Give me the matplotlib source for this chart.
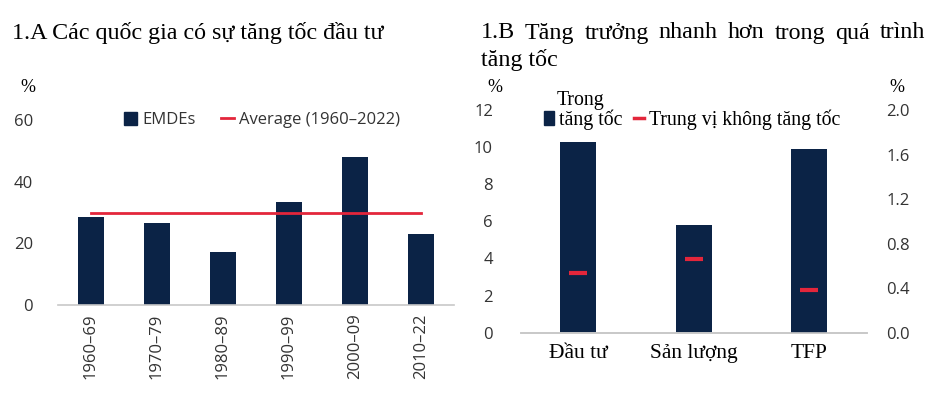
import numpy as np
import matplotlib
matplotlib.use('Agg')
import matplotlib.pyplot as plt
from matplotlib.lines import Line2D
from matplotlib.patches import Patch

NAVY = '#0b2346'
RED = '#e3263b'
GRID = '#c8c8c8'

# panel A data
periods = ['1960–69', '1970–79', '1980–89', '1990–99', '2000–09', '2010–22']
emdes = [28.7, 26.7, 17.1, 33.4, 47.9, 23.1]
average = 29.7

# panel B data (Đầu tư, Sản lượng on left axis; TFP on right axis)
cats_b = ['Đầu tư', 'Sản lượng', 'TFP']
accel_left = [10.3, 5.8]
median_left = [3.2, 3.95]
accel_tfp = 1.65
median_tfp = 0.38

sans = 'Open Sans'
serif = 'Liberation Serif'

fig = plt.figure(figsize=(9.48, 3.93), dpi=100)

# ---------- panel A ----------
ax = fig.add_axes([58/948, 1-305/393, 396/948, 185/393])
x = np.arange(len(periods))
ax.bar(x, emdes, width=0.4, color=NAVY, label='EMDEs', zorder=2)
ax.plot([x[0], x[-1]], [average, average], color=RED, lw=2, zorder=3,
        label='Average (1960–2022)')
ax.set_xlim(-0.5, len(periods) - 0.5)
ax.set_ylim(0, 60)
ax.set_yticks([0, 20, 40, 60])
ax.set_xticks(x)
ax.set_xticklabels(periods, rotation=90, fontfamily=sans, fontsize=12)
for lab in ax.get_yticklabels():
    lab.set_fontfamily(sans)
    lab.set_fontsize(12)
ax.tick_params(length=0, pad=6, colors='#333333')
ax.tick_params(axis='y', pad=18)
for s in ['top', 'right', 'left']:
    ax.spines[s].set_visible(False)
ax.spines['bottom'].set_color(GRID)
ax.spines['bottom'].set_linewidth(1.2)
handles = [Patch(color=NAVY), Line2D([0], [0], color=RED, lw=2)]
ax.legend(handles, ['EMDEs', 'Average (1960–2022)'], ncol=2, frameon=False,
          loc='center', bbox_to_anchor=(0.515, 1.0), prop={'family': sans, 'size': 12},
          handlelength=0.8, handleheight=0.8, handletextpad=0.3, columnspacing=1.5,
          labelcolor='#333333')
fig.text(12/948, 1-33/393, '1.A Các quốc gia có sự tăng tốc đầu tư',
         fontfamily=serif, fontsize=17.3, va='center', ha='left')
fig.text(20/948, 1-88/393, '%', fontfamily=serif, fontsize=13, va='center', ha='left')

# ---------- panel B ----------
bx = fig.add_axes([520.7/948, 1-332.7/393, 346/948, 222.7/393])
bx2 = bx.twinx()
xb = np.arange(len(cats_b))
bx.bar(xb[:2], accel_left, width=0.31, color=NAVY, zorder=2)
bx2.bar(xb[2], accel_tfp, width=0.31, color=NAVY, zorder=2)
bx.scatter(xb[:2], median_left, marker='_', s=150, linewidths=3, color=RED, zorder=3)
bx2.scatter([xb[2]], [median_tfp], marker='_', s=150, linewidths=3, color=RED, zorder=3)
bx.set_xlim(-0.5, 2.5)
bx.set_ylim(0, 12)
bx2.set_ylim(0, 2.0)
bx.set_yticks(range(0, 13, 2))
bx2.set_yticks([0.0, 0.4, 0.8, 1.2, 1.6, 2.0])
bx2.set_yticklabels(['0.0', '0.4', '0.8', '1.2', '1.6', '2.0'])
bx.set_xticks(xb)
bx.set_xticklabels(cats_b, fontfamily=serif, fontsize=15.5)
for lab in bx.get_yticklabels() + bx2.get_yticklabels():
    lab.set_fontfamily(sans)
    lab.set_fontsize(12)
bx.tick_params(length=0, colors='#333333')
bx.tick_params(axis='x', pad=8, colors='black')
bx.tick_params(axis='y', pad=20)
bx2.tick_params(length=0, pad=14, colors='#333333')
for a in (bx, bx2):
    for s in ['top', 'right', 'left']:
        a.spines[s].set_visible(False)
    a.spines['bottom'].set_color(GRID)
    a.spines['bottom'].set_linewidth(1.2)

handles_b = [Patch(color=NAVY), Line2D([0], [0], color=RED, lw=2.5)]
bx.legend(handles_b, ['tăng tốc', 'Trung vị không tăng tốc'], ncol=2, frameon=False,
          loc='center left', bbox_to_anchor=(0.015, 0.955), prop={'family': serif, 'size': 14.3},
          handlelength=0.5, handleheight=0.7, handletextpad=0.25, columnspacing=0.6)
fig.text(557/948, 1-101/393, 'Trong', fontfamily=serif, fontsize=14.3, va='center', ha='left')

# justified first line of the panel B title
words = '1.B Tăng trưởng nhanh hơn trong quá trình'.split()
x0, x1 = 481, 925
renderer = fig.canvas.get_renderer()
texts = [fig.text(0, 1-33/393, w, fontfamily=serif, fontsize=17.3, va='center', ha='left')
         for w in words]
widths = [t.get_window_extent(renderer).width for t in texts]
gap = (x1 - x0 - sum(widths)) / (len(words) - 1)
pos = x0
for t, w in zip(texts, widths):
    t.set_x(pos / 948)
    pos += w + gap
fig.text(481/948, 1-60/393, 'tăng tốc', fontfamily=serif, fontsize=17.3, va='center', ha='left')
fig.text(487/948, 1-88/393, '%', fontfamily=serif, fontsize=13, va='center', ha='left')
fig.text(889/948, 1-88/393, '%', fontfamily=serif, fontsize=13, va='center', ha='left')

fig.savefig('out.png', dpi=100)
